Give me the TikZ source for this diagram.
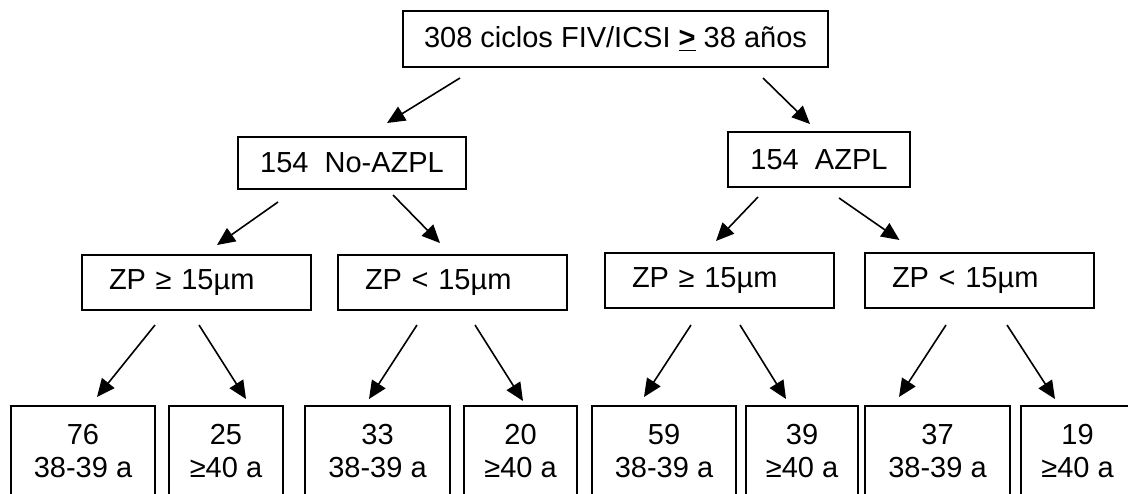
\documentclass[tikz,border=0pt]{standalone}
\usepackage{fontspec}
\setmainfont{Liberation Sans}
\usetikzlibrary{arrows.meta,calc}

\begin{document}
\begin{tikzpicture}[x=0.5pt, y=-0.5pt,
    every node/.style={draw, line width=1pt, inner sep=0pt, font=\fontsize{14.5}{16.5}\selectfont},
    arr/.style={line width=0.8pt, -{Triangle[length=9pt, width=8pt]}},
    zpbox/.style={minimum height=27.5pt, text width=87.5pt, align=left, inner xsep=13.5pt}]
    \useasboundingbox (0,0) rectangle (1128,493);
    \clip (0,0) rectangle (1128,493);

    \node[minimum width=212.5pt, minimum height=28pt] (top) at (615.5,39) {308 ciclos FIV/ICSI \underline{\textbf{>}} 38 años};

    \node[minimum width=114pt, minimum height=26pt] (noazpl) at (352,163) {154\ \ No-AZPL};
    \node[minimum width=91pt, minimum height=27.5pt] (azpl) at (819,159.5) {154\ \ AZPL};

    \node[zpbox] (zp1) at (196.5,282.5) {ZP ≥ 15µm};
    \node[zpbox] (zp2) at (452.5,282.5) {ZP < 15µm};
    \node[zpbox] (zp3) at (719.5,280.5) {ZP ≥ 15µm};
    \node[zpbox] (zp4) at (979.5,280.5) {ZP < 15µm};

    \foreach \i/\x/\w/\n/\a in {1/83/144/76/38-39 a, 2/226/114/25/≥40 a, 3/377.5/145/33/38-39 a, 4/520.5/113/20/≥40 a,
                                5/664/144/59/38-39 a, 6/802/112/39/≥40 a, 7/937.5/145/37/38-39 a, 8/1077.5/113/19/≥40 a} {
        \node[minimum width={\w*0.5pt}, minimum height=45pt, align=center] (b\i) at (\x,451) {\n\\\a};
    }

    \draw[arr] ($(top.south)+(-155.5,10)$) -- ($(noazpl.north)+(35,-13)$);
    \draw[arr] ($(top.south)+(147.5,10)$) -- ($(azpl.north)+(-9,-7)$);
    \draw[arr] ($(noazpl.south)+(-74,12)$) -- ($(zp1.north)+(20.5,-9)$);
    \draw[arr] ($(noazpl.south)+(41,5)$) -- ($(zp2.north)+(-12.5,-11)$);
    \draw[arr] ($(azpl.south)+(-61,9)$) -- ($(zp3.north)+(-3.5,-11)$);
    \draw[arr] ($(azpl.south)+(20,10)$) -- ($(zp4.north)+(-80,-12)$);
    \draw[arr] ($(zp1.south)+(-41.5,14)$) -- ($(b1.north)+(14,-8)$);
    \draw[arr] ($(zp1.south)+(2.5,14)$) -- ($(b2.north)+(20,-6)$);
    \draw[arr] ($(zp2.south)+(-35.5,14)$) -- ($(b3.north)+(-8.5,-6)$);
    \draw[arr] ($(zp2.south)+(22.5,14)$) -- ($(b4.north)+(2.5,-4)$);
    \draw[arr] ($(zp3.south)+(-28.5,16)$) -- ($(b5.north)+(-20,-8)$);
    \draw[arr] ($(zp3.south)+(20.5,16)$) -- ($(b6.north)+(-16,-6)$);
    \draw[arr] ($(zp4.south)+(-33.5,16)$) -- ($(b7.north)+(-38.5,-8)$);
    \draw[arr] ($(zp4.south)+(27.5,16)$) -- ($(b8.north)+(-22.5,-6)$);
\end{tikzpicture}
\end{document}
